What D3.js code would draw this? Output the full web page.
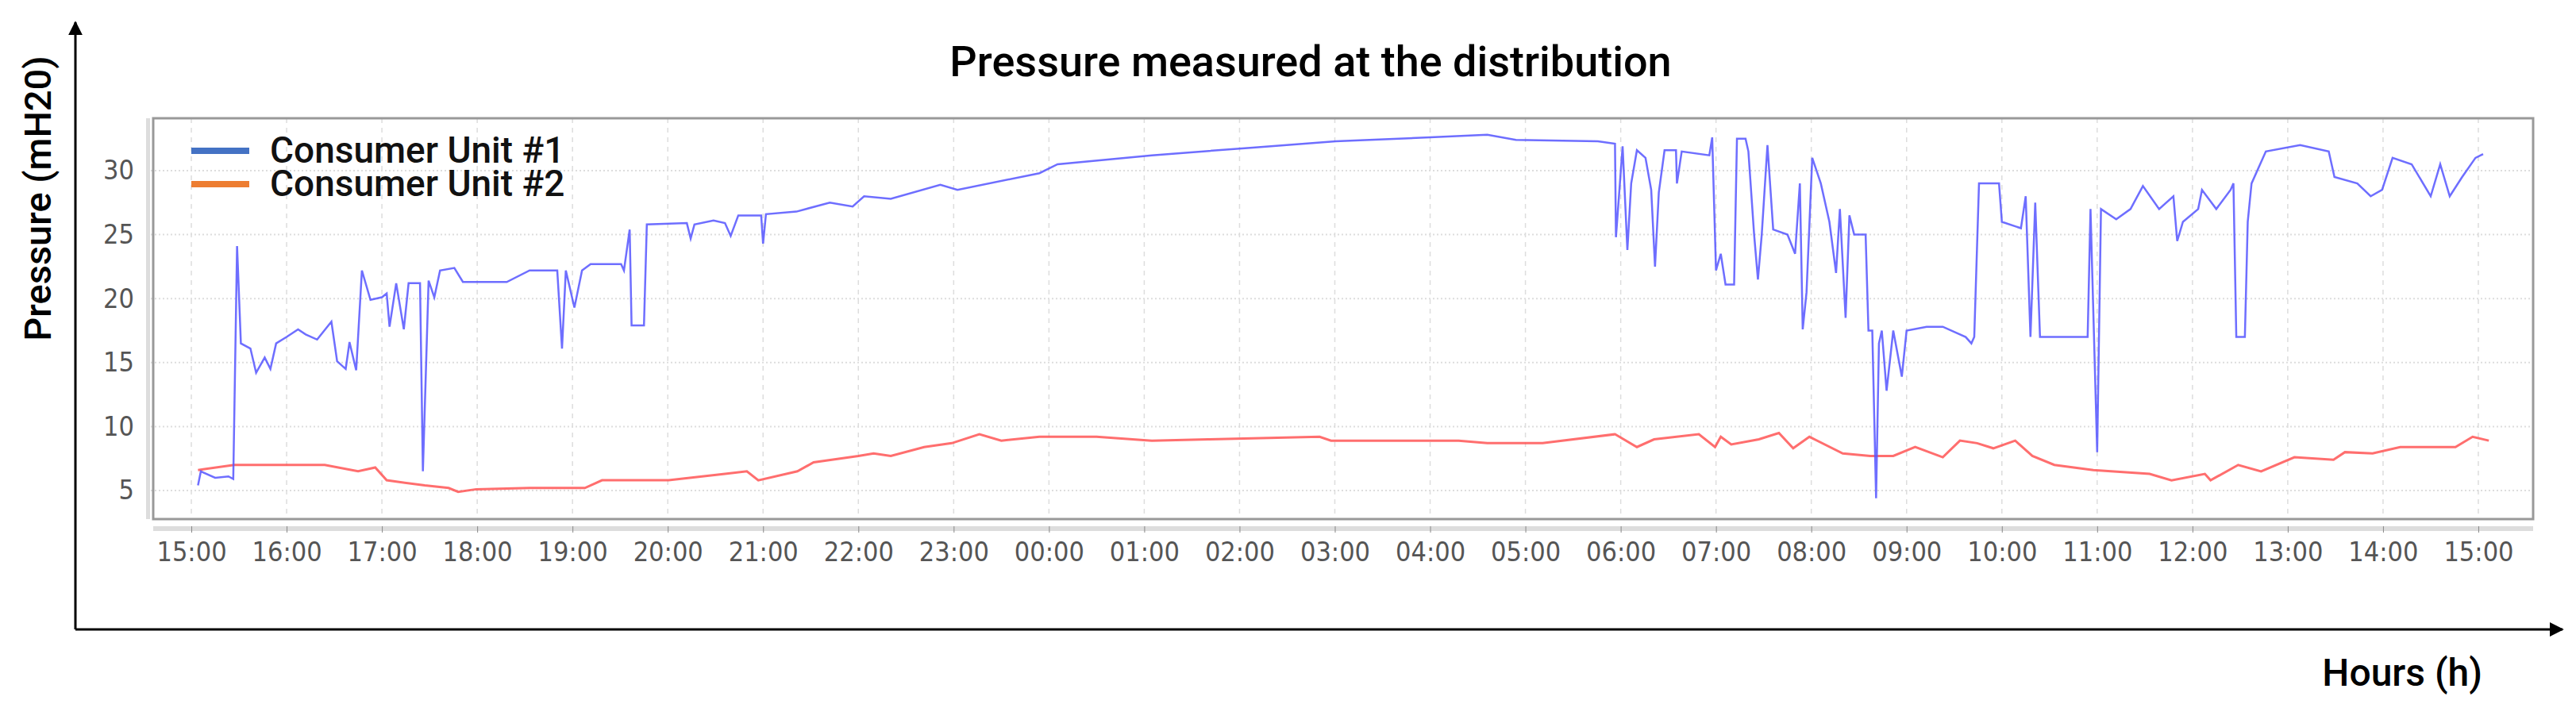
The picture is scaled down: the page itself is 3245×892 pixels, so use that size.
<!DOCTYPE html>
<html>
<head>
<meta charset="utf-8">
<script src="https://cdn.jsdelivr.net/npm/d3@7"></script>
<style>
  body { margin: 0; background: #fff; }
  text { font-family: "Liberation Sans Narrow", "DejaVu Sans Condensed", sans-serif; }
</style>
</head>
<body>
<script>
const WIDTH  = 3245;
const HEIGHT = 892;

// Hours since 15:00 (start of recording)
const tickLabels = ["15:00","16:00","17:00","18:00","19:00","20:00","21:00","22:00","23:00","00:00",
  "01:00","02:00","03:00","04:00","05:00","06:00","07:00","08:00","09:00","10:00","11:00","12:00",
  "13:00","14:00","15:00"];
const yTicks = [5, 10, 15, 20, 25, 30];
const seriesNames = ["Consumer Unit #1", "Consumer Unit #2"];

const hours1 = [0.07,0.1,0.25,0.39,0.44,0.48,0.52,0.62,0.68,0.77,0.83,0.89,1.0,1.12,1.2,1.32,1.47,1.53,1.62,1.66,1.73,
  1.79,1.88,2.0,2.05,2.08,2.15,2.23,2.28,2.4,2.43,2.49,2.55,2.61,2.76,2.85,3.31,3.55,3.84,3.89,3.93,4.02,4.1,4.19,
  4.51,4.54,4.6,4.62,4.75,4.78,5.2,5.24,5.28,5.48,5.6,5.66,5.74,5.98,6.0,6.03,6.35,6.7,6.94,7.06,7.34,7.86,8.04,
  8.9,9.09,10.08,11.14,12.01,13.0,13.6,13.9,14.76,14.94,14.95,15.02,15.07,15.11,15.17,15.26,15.32,15.36,15.4,15.46,
  15.58,15.59,15.64,15.93,15.96,16.0,16.05,16.1,16.19,16.22,16.31,16.34,16.4,16.44,16.48,16.54,16.6,16.75,16.83,
  16.88,16.91,16.95,17.01,17.1,17.19,17.26,17.3,17.36,17.4,17.45,17.57,17.6,17.64,17.68,17.71,17.74,17.79,17.86,
  17.95,18.0,18.21,18.38,18.62,18.68,18.71,18.76,18.97,19.0,19.2,19.25,19.3,19.35,19.4,19.9,19.93,20.0,20.04,20.2,
  20.35,20.48,20.65,20.8,20.84,20.9,21.06,21.1,21.25,21.4,21.43,21.46,21.55,21.58,21.62,21.68,21.77,22.13,22.43,
  22.49,22.73,22.87,22.99,23.1,23.3,23.5,23.6,23.7,23.83,23.97,24.05];
const values1 = [5.4,6.5,6.0,6.1,5.9,24.1,16.5,16.1,14.2,15.4,14.5,16.5,17.0,17.6,17.2,16.8,18.2,15.1,14.5,16.6,14.4,
  22.2,19.9,20.1,20.4,17.8,21.2,17.6,21.2,21.2,6.5,21.4,20.1,22.2,22.4,21.3,21.3,22.2,22.2,16.1,22.2,19.3,22.2,22.7,
  22.7,22.2,25.4,17.9,17.9,25.8,25.9,24.7,25.8,26.1,25.9,24.9,26.5,26.5,24.3,26.6,26.8,27.5,27.2,28.0,27.8,28.9,28.5,
  29.8,30.5,31.2,31.8,32.3,32.6,32.8,32.4,32.3,32.1,24.8,31.9,23.8,29.0,31.6,31.0,28.5,22.5,28.3,31.6,
  31.6,29.0,31.5,31.2,32.6,22.2,23.5,21.1,21.1,32.5,32.5,31.5,25.0,21.5,25.0,32.0,25.4,25.0,23.5,
  29.0,17.6,20.5,31.0,29.0,26.0,22.0,27.0,18.5,26.5,25.0,25.0,17.5,17.5,4.4,16.5,17.5,12.8,17.5,
  13.9,17.5,17.8,17.8,17.0,16.5,17.0,29.0,29.0,26.0,25.5,28.0,17.0,27.5,17.0,17.0,27.0,8.0,27.0,26.2,
  27.0,28.8,27.0,28.0,24.5,26.0,27.0,28.5,27.0,28.5,29.0,17.0,17.0,26.0,29.0,30.0,31.5,32.0,31.5,
  29.5,29.0,28.0,28.5,31.0,30.5,28.0,30.5,28.0,29.5,31.0,31.3];

const hours2 = [0.07,0.45,0.92,1.4,1.75,1.93,2.05,2.45,2.7,2.8,2.99,3.55,4.13,4.31,5.01,5.6,5.83,5.95,6.36,6.53,7.0,
  7.16,7.34,7.69,7.98,8.27,8.5,8.9,9.5,10.08,10.67,11.84,11.96,13.3,13.6,14.18,14.94,15.17,15.35,15.82,15.99,16.05,
  16.16,16.45,16.66,16.81,16.98,17.33,17.62,17.86,18.09,18.38,18.56,18.74,18.91,19.14,19.32,19.55,19.96,20.55,20.78,
  21.13,21.19,21.48,21.72,22.07,22.48,22.6,22.89,23.18,23.41,23.76,23.94,24.11];
const values2 = [6.6,7.0,7.0,7.0,6.5,6.8,5.8,5.4,5.2,4.9,5.1,5.2,5.2,5.8,5.8,6.3,6.5,5.8,6.5,7.2,7.7,
  7.9,7.7,8.4,8.7,9.4,8.9,9.2,9.2,8.9,9.0,9.2,8.9,8.9,8.7,8.7,9.4,8.4,9.0,9.4,8.4,9.2,
  8.6,9.0,9.5,8.3,9.2,7.9,7.7,7.7,8.4,7.6,8.9,8.7,8.3,8.9,7.7,7.0,6.6,6.3,5.8,
  6.3,5.8,7.0,6.5,7.6,7.4,8.0,7.9,8.4,8.4,8.4,9.2,8.9];

const PLOT = { left: 193, right: 3191, top: 149, bottom: 654 };

const svg = d3.select("body").append("svg")
  .attr("width", WIDTH).attr("height", HEIGHT);

const xScale = d3.scaleLinear().domain([-0.4, 24.575]).range([PLOT.left, PLOT.right]);
const yScale = d3.scaleLinear().domain([5, 30]).range([618, 215]);

// Outer frame arrows
svg.append("defs").append("marker")
  .attr("id", "arrow").attr("viewBox", "0 0 10 10").attr("refX", 9).attr("refY", 5)
  .attr("markerWidth", 6).attr("markerHeight", 6).attr("orient", "auto")
  .append("path").attr("d", "M0,0 L10,5 L0,10 z").attr("fill", "#000");
svg.append("line").attr("x1", 95).attr("y1", 793).attr("x2", 95).attr("y2", 28)
  .attr("stroke", "#000").attr("stroke-width", 3).attr("marker-end", "url(#arrow)");
svg.append("line").attr("x1", 95).attr("y1", 793).attr("x2", 3228).attr("y2", 793)
  .attr("stroke", "#000").attr("stroke-width", 3).attr("marker-end", "url(#arrow)");

// Plot frame with grey shadow bands
svg.append("rect").attr("x", PLOT.left - 9).attr("y", PLOT.top).attr("width", 5)
  .attr("height", PLOT.bottom - PLOT.top).attr("fill", "#ddd");
svg.append("rect").attr("x", PLOT.left).attr("y", PLOT.bottom + 9).attr("width", PLOT.right - PLOT.left)
  .attr("height", 6).attr("fill", "#ddd");

// Grid
const hourTicks = d3.range(0, 25);
svg.append("g").selectAll("line").data(hourTicks).enter().append("line")
  .attr("x1", d => xScale(d)).attr("x2", d => xScale(d))
  .attr("y1", PLOT.top).attr("y2", PLOT.bottom)
  .attr("stroke", "#ddd").attr("stroke-width", 1.5).attr("stroke-dasharray", "6,6");
svg.append("g").selectAll("line").data(yTicks).enter().append("line")
  .attr("x1", PLOT.left - 8).attr("x2", PLOT.right)
  .attr("y1", d => yScale(d)).attr("y2", d => yScale(d))
  .attr("stroke", "#ddd").attr("stroke-width", 2).attr("stroke-dasharray", "2,3");

svg.append("rect").attr("x", PLOT.left).attr("y", PLOT.top)
  .attr("width", PLOT.right - PLOT.left).attr("height", PLOT.bottom - PLOT.top)
  .attr("fill", "none").attr("stroke", "#999").attr("stroke-width", 3);

// Axes
const xAxis = d3.axisBottom(xScale).tickValues(hourTicks).tickFormat((d, i) => tickLabels[i])
  .tickSize(8).tickPadding(12);
const gx = svg.append("g").attr("transform", "translate(0," + (PLOT.bottom + 9) + ")").call(xAxis);
gx.select(".domain").remove();
gx.selectAll("line").attr("stroke", "#888");
gx.selectAll("text").attr("fill", "#555").style("font-size", "34px");

const yAxis = d3.axisLeft(yScale).tickValues(yTicks).tickSize(0).tickPadding(24);
const gy = svg.append("g").attr("transform", "translate(" + PLOT.left + ",0)").call(yAxis);
gy.select(".domain").remove();
gy.selectAll("text").attr("fill", "#555").style("font-size", "34px");

// Series
const line = d3.line().x(d => xScale(d[0])).y(d => yScale(d[1]));
svg.append("path").datum(hours2.map((h, i) => [h, values2[i]]))
  .attr("d", line).attr("fill", "none").attr("stroke", "#ff5555").attr("stroke-width", 3).attr("opacity", 0.85);
svg.append("path").datum(hours1.map((h, i) => [h, values1[i]]))
  .attr("d", line).attr("fill", "none").attr("stroke", "#5555ff").attr("stroke-width", 2.5).attr("opacity", 0.85);

// Legend
const legendColors = ["#4472c4", "#ed7d31"];
const legend = svg.append("g").selectAll("g").data(seriesNames).enter().append("g")
  .attr("transform", (d, i) => "translate(241," + (190 + i * 42) + ")");
legend.append("line").attr("x1", 0).attr("x2", 73).attr("stroke", (d, i) => legendColors[i]).attr("stroke-width", 8);
legend.append("text").attr("x", 99).attr("y", 15).text(d => d)
  .style("font-family", "Roboto, sans-serif").style("font-size", "46px").style("font-weight", "500").attr("fill", "#111");

// Titles
svg.append("text").attr("x", 1651).attr("y", 96).attr("text-anchor", "middle")
  .style("font-family", "Roboto, sans-serif").style("font-size", "54px").style("font-weight", "500")
  .text("Pressure measured at the distribution");
svg.append("text").attr("transform", "translate(64,250) rotate(-90)").attr("text-anchor", "middle")
  .style("font-family", "Roboto, sans-serif").style("font-size", "47px").style("font-weight", "500")
  .text("Pressure (mH20)");
svg.append("text").attr("x", 3127).attr("y", 864).attr("text-anchor", "end")
  .style("font-family", "Roboto, sans-serif").style("font-size", "48px").style("font-weight", "500")
  .text("Hours (h)");
</script>
</body>
</html>
